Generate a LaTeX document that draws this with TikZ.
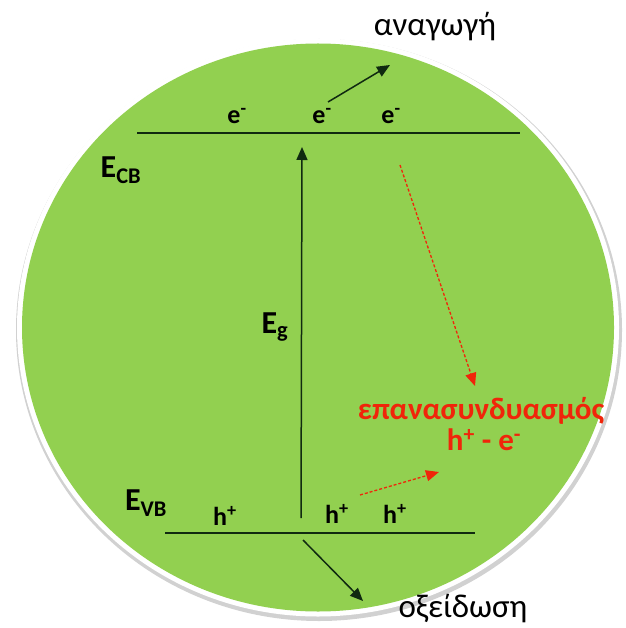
\documentclass[tikz,border=0pt]{standalone}
\usepackage{fontspec}
\setmainfont{Carlito}
\usetikzlibrary{arrows.meta}
\definecolor{ballgreen}{HTML}{92D050}
\definecolor{redtxt}{HTML}{F0250A}
\definecolor{linedark}{HTML}{102A10}
\tikzset{
  lbl/.style={inner sep=0pt, font=\fontsize{33}{35}\selectfont},
  chg/.style={inner sep=0pt, font=\fontsize{26}{28}\selectfont\bfseries},
  elab/.style={inner sep=0pt, font=\fontsize{32}{34}\selectfont\bfseries},
  redlab/.style={inner sep=0pt, text=redtxt, font=\fontsize{31}{32}\selectfont\bfseries},
  level/.style={draw=linedark, line width=1.6pt},
  blkarrow/.style={draw=linedark, line width=1.5pt, -{Triangle[length=13pt,width=11pt]}},
  redarrow/.style={draw=redtxt, line width=1.3pt, dash pattern=on 3pt off 2pt, -{Triangle[length=13pt,width=11pt]}}
}
\begin{document}
\begin{tikzpicture}[x=1pt,y=-1pt]
\useasboundingbox (0,0) rectangle (625,628);
% ball
\fill[black!18] (319,330) ellipse [x radius=303, y radius=291];
\fill[white] (318,327.5) ellipse [x radius=301, y radius=289];
\fill[ballgreen] (318,327.5) ellipse [x radius=296, y radius=284];
% levels
\coordinate (cbl) at (137,133);
\coordinate (cbr) at (520,133);
\coordinate (vbl) at (165,533);
\coordinate (vbr) at (475,533);
\draw[level] (cbl) -- (cbr);
\draw[level] (vbl) -- (vbr);
% labels
\node[lbl] (ana) at (435,27) {αναγωγή};
\node[lbl] (oxi) at (463,609) {οξείδωση};
\node[elab] (ecb) at (121,170) {E\textsubscript{CB}};
\node[elab] (evb) at (146,503) {E\textsubscript{VB}};
\node[elab] (eg) at (275,327) {E\textsubscript{g}};
\node[chg] (e1) at (237,116) {e\textsuperscript{-}};
\node[chg] (e2) at (322,116) {e\textsuperscript{-}};
\node[chg] (e3) at (391,116) {e\textsuperscript{-}};
\node[chg] (h1) at (225,516) {h\textsuperscript{+}};
\node[chg] (h2) at (337,514) {h\textsuperscript{+}};
\node[chg] (h3) at (395,514) {h\textsuperscript{+}};
\node[redlab] (rec1) at (481,411) {επανασυνδυασμός};
\node[redlab] (rec2) at (484,440) {h\textsuperscript{+} - e\textsuperscript{-}};
% arrows
\coordinate (gapS) at (301,518);
\coordinate (gapE) at (302,147);
\draw[blkarrow] (gapS) -- (gapE);
\coordinate (redS) at (328,102);
\coordinate (redE) at (390,65);
\draw[blkarrow] (redS) -- (redE);
\coordinate (oxS) at (303,540);
\coordinate (oxE) at (363,601);
\draw[blkarrow] (oxS) -- (oxE);
\coordinate (r1S) at (400,165);
\coordinate (r1E) at (475,386);
\draw[redarrow] (r1S) -- (r1E);
\coordinate (r2S) at (360,495);
\coordinate (r2E) at (439,472);
\draw[redarrow] (r2S) -- (r2E);
\end{tikzpicture}
\end{document}
